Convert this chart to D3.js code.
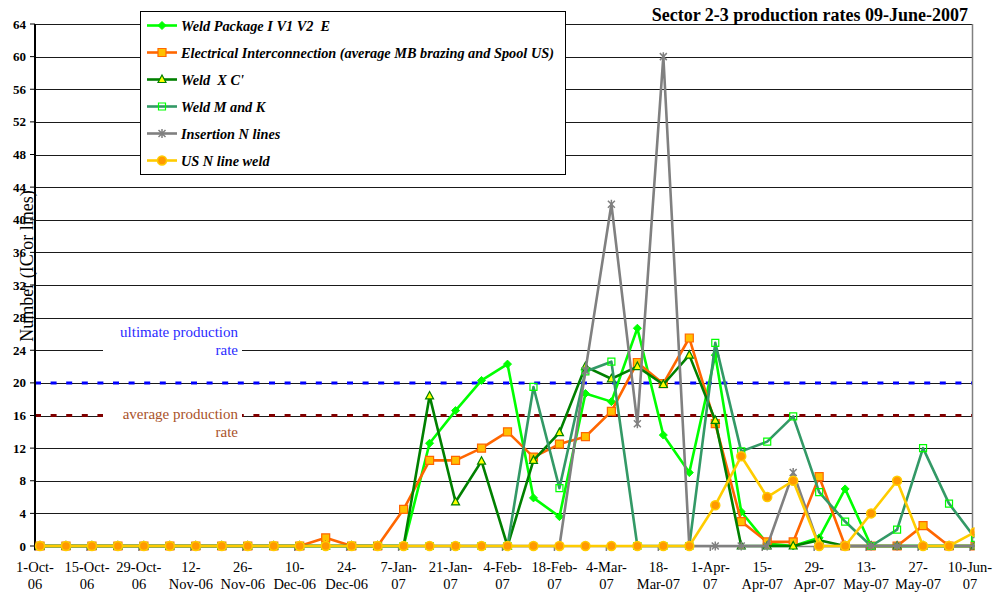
<!DOCTYPE html>
<html><head><meta charset="utf-8">
<script src="https://cdn.jsdelivr.net/npm/d3@7"></script>
<style>body{margin:0;background:#fff}svg{display:block}</style>
</head><body>
<svg id="c" width="998" height="597"></svg>
<script>
// ---------- data ----------
const weekDates = ["2006-10-01","2006-10-08","2006-10-15","2006-10-22","2006-10-29","2006-11-05","2006-11-12","2006-11-19","2006-11-26","2006-12-03","2006-12-10","2006-12-17","2006-12-24","2006-12-31","2007-01-07","2007-01-14","2007-01-21","2007-01-28","2007-02-04","2007-02-11","2007-02-18","2007-02-25","2007-03-04","2007-03-11","2007-03-18","2007-03-25","2007-04-01","2007-04-08","2007-04-15","2007-04-22","2007-04-29","2007-05-06","2007-05-13","2007-05-20","2007-05-27","2007-06-03","2007-06-10"];
const tickDates = ["2006-10-01","2006-10-15","2006-10-29","2006-11-12","2006-11-26","2006-12-10","2006-12-24","2007-01-07","2007-01-21","2007-02-04","2007-02-18","2007-03-04","2007-03-18","2007-04-01","2007-04-15","2007-04-29","2007-05-13","2007-05-27","2007-06-10"];
const tickLabels = ["1-Oct-\n06","15-Oct-\n06","29-Oct-\n06","12-\nNov-06","26-\nNov-06","10-\nDec-06","24-\nDec-06","7-Jan-\n07","21-Jan-\n07","4-Feb-\n07","18-Feb-\n07","4-Mar-\n07","18-\nMar-07","1-Apr-\n07","15-\nApr-07","29-\nApr-07","13-\nMay-07","27-\nMay-07","10-Jun-\n07"];
const yTicks = [0,4,8,12,16,20,24,28,32,36,40,44,48,52,56,60,64];

const weldPackage = [0,0,0,0,0,0,0,0,0,0,0,0,0,0,0,12.6,16.6,20.3,22.3,5.9,3.6,18.7,17.7,26.7,13.6,9.0,23.4,4.2,0.3,0,1.0,7.0,0,0,0,0,0];
const electrical  = [0,0,0,0,0,0,0,0,0,0,0,1.0,0,0,4.5,10.5,10.5,12.0,14.0,10.9,12.5,13.4,16.5,22.5,19.9,25.5,15.0,3.0,0.5,0.5,8.5,0,0,0,2.5,0,0];
const weldXC      = [0,0,0,0,0,0,0,0,0,0,0,0,0,0,0,18.4,5.4,10.4,0,10.5,13.9,22.0,20.5,22.0,19.8,23.4,15.4,0,0,0,0.7,0,0,0,0,0,0];
const weldMK      = [0,0,0,0,0,0,0,0,0,0,0,0,0,0,0,0,0,0,0,19.5,7.1,21.4,22.6,0,0,0,24.9,11.6,12.8,15.9,6.6,3.0,0,2.0,12.0,5.2,1.0];
const insertionN  = [0,0,0,0,0,0,0,0,0,0,0,0,0,0,0,0,0,0,0,0,0,21.5,41.9,15.0,60,0,0,0,0,9.0,0,0,0,0,0,0,0];
const usNWeld     = [0,0,0,0,0,0,0,0,0,0,0,0,0,0,0,0,0,0,0,0,0,0,0,0,0,0,5.0,11.0,6.0,8.0,0,0,4.0,8.0,0,0,1.7];

const seriesNames = ["Weld Package I V1 V2  E","Electrical Interconnection (average MB brazing and Spool US)","Weld  X C'","Weld M and K","Insertion N lines","US N line weld"];
const seriesValues = [weldPackage, electrical, weldXC, weldMK, insertionN, usNWeld];

const refValues = [20, 16];
const refLabels = [["ultimate production","rate"],["average production","rate"]];

const titleText = "Sector 2-3 production rates 09-June-2007";
const yTitle = "Number (IC or lines)";

// ---------- styles ----------
const lineColors = ["#00ff00","#ff6600","#008000","#339966","#808080","#ffcc00"];
const markerKinds = ["diamond","square","triangle","hollow","star","circle"];
const refColors = ["#0000ff","#800000"];
const refTextColors = ["#2b2bff","#a9522a"];
const SERIF = "'Liberation Serif','Times New Roman',serif";

const svg = d3.select("#c");
const L = 35, R = 972.5, T = 24, B = 546;
const parse = d3.utcParse("%Y-%m-%d");
const x = d3.scaleUtc().domain([parse(weekDates[0]), parse(weekDates[weekDates.length-1])]).range([40, 975]);
const y = d3.scaleLinear().domain([0, 64]).range([B, T]);
const tickShift = -5;

// gridlines
svg.append("g").selectAll("line").data(yTicks.filter(v => v > 0)).join("line")
  .attr("x1", L).attr("x2", R).attr("y1", d => Math.round(y(d)) + 0.5).attr("y2", d => Math.round(y(d)) + 0.5)
  .attr("stroke", "#1a1a1a").attr("stroke-width", 1);

// reference dashed lines
refValues.forEach((v, i) => {
  svg.append("line").attr("x1", L).attr("x2", R).attr("y1", y(v)).attr("y2", y(v))
    .attr("stroke", refColors[i]).attr("stroke-width", 3).attr("stroke-dasharray", "6,9.6");
});

// label boxes for the reference lines
refValues.forEach((v, i) => {
  const cy = i === 0 ? y(24) - 8 : y(16) + 8;
  svg.append("rect").attr("x", 103).attr("y", cy - 20).attr("width", 139).attr("height", 37).attr("fill", "#fff");
  const t = svg.append("text").attr("font-family", SERIF).attr("font-size", 15).attr("fill", refTextColors[i])
    .attr("text-anchor", "end");
  refLabels[i].forEach((s, k) => t.append("tspan").attr("x", 238).attr("y", cy - 5 + k * 18).text(s));
});

// right frame
svg.append("line").attr("x1", R).attr("x2", R).attr("y1", T).attr("y2", B).attr("stroke", "#808080").attr("stroke-width", 1.5);

// x axis
svg.append("line").attr("x1", L).attr("x2", R).attr("y1", B + 0.5).attr("y2", B + 0.5).attr("stroke", "#808080").attr("stroke-width", 1.5);
const xt = svg.append("g").selectAll("g").data(tickDates).join("g")
  .attr("transform", d => `translate(${x(parse(d)) + tickShift},0)`);
xt.append("line").attr("y1", B).attr("y2", B + 5).attr("stroke", "#808080").attr("stroke-width", 1.5);
xt.append("text").attr("font-family", SERIF).attr("font-size", 14.5).attr("fill", "#000").attr("text-anchor", "middle")
  .each(function(d, i) {
    const parts = tickLabels[i].split("\n");
    parts.forEach((p, k) => d3.select(this).append("tspan").attr("x", 0).attr("y", 572 + k * 17).text(p));
  });

// y axis
svg.append("line").attr("x1", L).attr("x2", L).attr("y1", T).attr("y2", B + 4).attr("stroke", "#000").attr("stroke-width", 2);
const yt = svg.append("g").selectAll("g").data(yTicks).join("g").attr("transform", d => `translate(0,${y(d)})`);
yt.append("line").attr("x1", L - 5).attr("x2", L).attr("stroke", "#000");
yt.append("text").attr("x", 26).attr("dy", "0.35em").attr("text-anchor", "end").attr("font-family", SERIF)
  .attr("font-weight", "bold").attr("font-size", 13).text(d => d);

// y title
svg.append("text").attr("transform", "translate(33,266) rotate(-90)").attr("text-anchor", "middle")
  .attr("font-family", SERIF).attr("font-size", 18).text(yTitle);

// markers
function marker(sel, kind) {
  if (kind === "diamond") sel.append("path").attr("d", "M0,-4L4,0L0,4L-4,0Z").attr("fill", "#00ff00").attr("stroke", "#00ff00");
  else if (kind === "square") sel.append("path").attr("d", "M-4,-4h8v8h-8Z").attr("fill", "#ffc000").attr("stroke", "#ff6600").attr("stroke-width", 1.2);
  else if (kind === "triangle") sel.append("path").attr("d", "M0,-4.5L4,3L-4,3Z").attr("fill", "#ffff00").attr("stroke", "#008000").attr("stroke-width", 1.2);
  else if (kind === "hollow") sel.append("path").attr("d", "M-3.5,-3.5h7v7h-7Z").attr("fill", "none").attr("stroke", "#00ff00").attr("stroke-width", 1.2);
  else if (kind === "star") sel.append("path").attr("d", "M-3.5,-3.5L3.5,3.5M-3.5,3.5L3.5,-3.5M0,-4.5V4.5").attr("fill", "none").attr("stroke", "#808080").attr("stroke-width", 1.5);
  else if (kind === "circle") sel.append("circle").attr("r", 4.5).attr("fill", "#ff9900").attr("stroke", "#ffcc00").attr("stroke-width", 1.5);
}

svg.append("clipPath").attr("id", "pc").append("rect").attr("x", L - 10).attr("y", 0).attr("width", R - L + 12).attr("height", 560);
const plot = svg.append("g").attr("clip-path", "url(#pc)");
const line = d3.line().x((d, i) => x(parse(weekDates[i]))).y(d => y(d));
seriesValues.forEach((vals, s) => {
  const g = plot.append("g");
  g.append("path").attr("d", line(vals)).attr("fill", "none").attr("stroke", lineColors[s]).attr("stroke-width", 2.6).attr("stroke-linejoin", "round");
  vals.forEach((v, i) => {
    const m = g.append("g").attr("transform", `translate(${x(parse(weekDates[i]))},${y(v)})`);
    marker(m, markerKinds[s]);
  });
});

// legend
const lg = svg.append("g");
lg.append("rect").attr("x", 140.5).attr("y", 11.5).attr("width", 425).attr("height", 163).attr("fill", "#fff").attr("stroke", "#000");
seriesNames.forEach((n, i) => {
  const yy = 25.5 + i * 27;
  lg.append("line").attr("x1", 147).attr("x2", 177).attr("y1", yy).attr("y2", yy).attr("stroke", lineColors[i]).attr("stroke-width", 2.6);
  marker(lg.append("g").attr("transform", `translate(162,${yy})`), markerKinds[i]);
  lg.append("text").attr("x", 181).attr("y", yy + 5).attr("font-family", SERIF).attr("font-style", "italic")
    .attr("font-weight", "bold").attr("font-size", 14.3).style("white-space", "pre").text(n);
});

// title
svg.append("text").attr("x", 968).attr("y", 21).attr("text-anchor", "end").attr("font-family", SERIF)
  .attr("font-weight", "bold").attr("font-size", 18).text(titleText);
</script>
</body></html>
